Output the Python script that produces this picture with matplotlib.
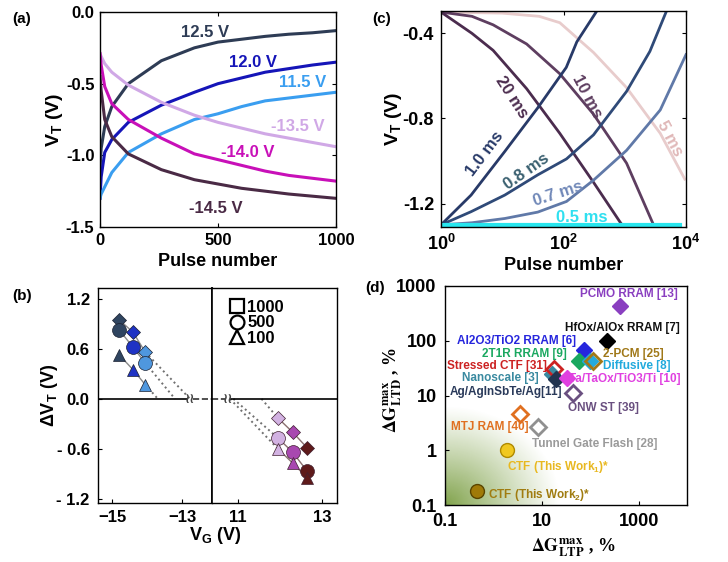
import numpy as np
import matplotlib
matplotlib.use('Agg')
import matplotlib.pyplot as plt
from matplotlib.lines import Line2D

plt.rcParams['font.family'] = ['Liberation Sans', 'DejaVu Sans']
plt.rcParams['font.weight'] = 'bold'
plt.rcParams['mathtext.fontset'] = 'custom'
plt.rcParams['mathtext.rm'] = 'Liberation Sans:bold'
plt.rcParams['mathtext.bf'] = 'Liberation Sans:bold'
plt.rcParams['mathtext.it'] = 'Liberation Sans:italic:bold'
plt.rcParams['axes.linewidth'] = 1.0

# ---------------- data: panel (a) ----------------
pulse_a = [0, 5, 20, 50, 120, 260, 400, 500, 600, 700, 800, 900, 1000]
vt_p125 = [-1.10, -0.95, -0.80, -0.66, -0.50, -0.34, -0.25, -0.21, -0.19, -0.17, -0.155, -0.145, -0.13]
vt_p120 = [-1.30, -1.15, -0.98, -0.89, -0.77, -0.65, -0.56, -0.50, -0.46, -0.42, -0.395, -0.37, -0.35]
vt_p115 = [-1.30, -1.27, -1.22, -1.12, -0.98, -0.85, -0.75, -0.71, -0.66, -0.62, -0.60, -0.58, -0.56]
vt_m135 = [-0.29, -0.31, -0.36, -0.42, -0.51, -0.63, -0.72, -0.77, -0.81, -0.85, -0.88, -0.91, -0.94]
vt_m140 = [-0.29, -0.37, -0.52, -0.64, -0.75, -0.88, -0.99, -1.03, -1.07, -1.11, -1.14, -1.16, -1.18]
vt_m145 = [-0.45, -0.55, -0.75, -0.87, -0.99, -1.10, -1.17, -1.20, -1.23, -1.25, -1.27, -1.285, -1.30]
labels_a = ['12.5 V', '12.0 V', '11.5 V', '-13.5 V', '-14.0 V', '-14.5 V']
colors_a = ['#2e3c55', '#1515b8', '#3a9ef0', '#d0a8e6', '#c810b8', '#4a2a45']

# ---------------- data: panel (c) ----------------
pulse_c_10 = [1, 3.1, 11, 38, 111, 165, 348]
vt_c_10 = [-1.30, -1.16, -0.955, -0.75, -0.56, -0.44, -0.296]
pulse_c_08 = [1, 3.1, 11, 38, 112, 309, 1070, 2570, 4790]
vt_c_08 = [-1.30, -1.238, -1.16, -1.065, -0.99, -0.877, -0.673, -0.485, -0.296]
pulse_c_07 = [1, 3.2, 11, 38, 112, 309, 1070, 3800, 10000]
vt_c_07 = [-1.30, -1.29, -1.27, -1.24, -1.19, -1.09, -0.95, -0.76, -0.50]
pulse_c_05 = [1, 8000]
vt_c_05 = [-1.30, -1.30]
pulse_c_20 = [1, 3.2, 7.1, 25, 87, 309, 830, 930]
vt_c_20 = [-0.30, -0.40, -0.48, -0.66, -0.87, -1.10, -1.285, -1.305]
pulse_c_100 = [1, 3.2, 7.1, 25, 87, 309, 1070, 2950]
vt_c_100 = [-0.30, -0.32, -0.36, -0.45, -0.59, -0.78, -1.01, -1.30]
pulse_c_5 = [1, 10, 40, 87, 309, 1070, 3800, 9550]
vt_c_5 = [-0.30, -0.305, -0.32, -0.35, -0.49, -0.655, -0.87, -1.085]

# ---------------- data: panel (b) ----------------
vg_left = [-14.8, -14.4, -14.05]
vg_right = [11.95, 12.3, 12.65]
dvt_left_1000 = [0.95, 0.80, 0.56]
dvt_left_500 = [0.83, 0.62, 0.43]
dvt_left_100 = [0.53, 0.35, 0.17]
dvt_right_1000 = [-0.23, -0.40, -0.59]
dvt_right_500 = [-0.47, -0.64, -0.87]
dvt_right_100 = [-0.60, -0.77, -0.95]
vg_zero_left = [-12.77, -13.2, -13.69]   # 1000, 500, 100
vg_zero_right = [11.56, 10.89, 10.81]
col_left = ['#2f4560', '#1f33c4', '#4f97de']
col_right = ['#d2b2e2', '#a848b0', '#5e1a1a']

# ---------------- data: panel (d) ----------------
d_names = ['Nanoscale [3]', 'PCMO RRAM [13]', 'HfOx/AlOx RRAM [7]', 'Al2O3/TiO2 RRAM [6]',
           '2T1R RRAM [9]', 'Diffusive [8]', '2-PCM [25]', 'Stressed CTF [31]',
           'Ag/AgInSbTe/Ag[11]', 'Ta/TaOx/TiO3/Ti [10]', 'ONW ST [39]', 'MTJ RAM [40]',
           'Tunnel Gate Flash [28]']
d_ltp = [16, 407, 218, 75, 59, 98, 112, 18, 20, 33, 44, 3.5, 8.3]
d_ltd = [25, 436, 100, 68, 42, 42, 42, 30, 20, 21, 11, 4.6, 2.7]
d_filled = [True, True, True, True, True, True, False, False, True, True, False, False, False]
d_colors = ['#3a8aa0', '#8a3fc0', '#000000', '#2626dd', '#1aa860', '#22aadd', '#a07818',
            '#cc2222', '#22344f', '#e040e0', '#6a5080', '#e07020', '#909090']
d_text_colors = ['#3a8aa0', '#8a3fc0', '#111111', '#2626dd', '#1aa860', '#22aadd', '#a07818',
                 '#cc2222', '#2a3a5a', '#e040e0', '#6a5080', '#e07020', '#9a9a9a']
d_label_x = [0.221, 61.5, 30.1, 0.174, 0.573, 187, 187, 0.112, 0.127, 37.1, 35.3, 0.131, 6.18]
d_label_y = [21.2, 714, 173, 100, 57.3, 34.6, 57.3, 34.6, 11.75, 19.7, 5.83, 2.70, 1.30]
ctf_names = ['CTF (This Work$_{1}$)*', 'CTF (This Work$_{2}$)*']
ctf_ltp = [1.95, 0.45]
ctf_ltd = [1.0, 0.18]
ctf_colors = ['#f0c820', '#a07a08']
ctf_edges = ['#b08a00', '#5a4500']
ctf_text_colors = ['#e8b820', '#a07c10']
ctf_label_x = [1.88, 0.785]
ctf_label_y = [0.50, 0.152]

W, H = 728, 562
fig = plt.figure(figsize=(W / 100, H / 100), dpi=100)


def rect(l, t, r, b):
    return [l / W, 1 - b / H, (r - l) / W, (b - t) / H]


# ================= panel (a) =================
axA = fig.add_axes(rect(100, 12, 336, 227))
series_a = [vt_p125, vt_p120, vt_p115, vt_m135, vt_m140, vt_m145]
for ys, c in zip(series_a, colors_a):
    axA.plot(pulse_a, ys, color=c, lw=2.2, solid_joinstyle='round')
label_pos_a = [(447, -0.14), (647, -0.35), (860, -0.49), (838, -0.80), (626, -0.98), (489, -1.37)]
for (x, y), t, c in zip(label_pos_a, labels_a, colors_a):
    axA.text(x, y, t, color=c, fontsize=12, fontweight='bold', ha='center', va='center')
axA.set_xlim(0, 1000)
axA.set_ylim(-1.5, 0)
axA.set_xticks([0, 500, 1000])
axA.set_yticks([0, -0.5, -1.0, -1.5])
axA.set_yticklabels(['0.0', '-0.5', '-1.0', '-1.5'])
axA.tick_params(direction='in', top=True, right=True, labelsize=12, length=3, pad=4)
axA.set_xlabel('Pulse number', fontsize=13, fontweight='bold')
axA.xaxis.set_label_coords(0.5, -0.12)
axA.set_ylabel('V$_\\mathregular{T}$ (V)', fontsize=14, fontweight='bold')
axA.yaxis.set_label_coords(-0.15, 0.5)

# ================= panel (c) =================
axC = fig.add_axes(rect(441, 11, 686, 227))
c_series = [(pulse_c_5, vt_c_5, '#e8cccc'), (pulse_c_100, vt_c_100, '#5e3e60'),
            (pulse_c_20, vt_c_20, '#4b2c4e'), (pulse_c_07, vt_c_07, '#6079a8'),
            (pulse_c_08, vt_c_08, '#2f4a78'), (pulse_c_10, vt_c_10, '#283a68'),
            (pulse_c_05, vt_c_05, '#28e6ee')]
for xs, ys, c in c_series:
    axC.plot(xs, ys, color=c, lw=2.0 if c != '#28e6ee' else 3.0)
c_labels = [('20 ms', 14.3, -0.698, -57, '#4b2c4e'), ('10 ms', 239, -0.698, -62, '#5e3e60'),
            ('5 ms', 5480, -0.894, -62, '#e0b8b8'), ('1.0 ms', 5.2, -0.965, 53, '#283a68'),
            ('0.8 ms', 25, -1.051, 35, '#3a6070'), ('0.7 ms', 82, -1.153, 18, '#7088b8'),
            ('0.5 ms', 198, -1.266, 0, '#30e0f0')]
for t, x, y, r, c in c_labels:
    axC.text(x, y, t, color=c, fontsize=12, fontweight='bold', rotation=r,
             ha='center', va='center', rotation_mode='anchor')
axC.set_xscale('log')
axC.set_xlim(1, 1e4)
axC.set_ylim(-1.31, -0.295)
axC.set_xticks([1, 100, 1e4])
axC.set_xticklabels([r'$\mathbf{10^{0}}$', r'$\mathbf{10^{2}}$', r'$\mathbf{10^{4}}$'])
axC.minorticks_off()
axC.set_yticks([-0.4, -0.8, -1.2])
axC.set_yticklabels(['-0.4', '-0.8', '-1.2'])
axC.tick_params(direction='in', top=True, right=True, labelsize=13, length=3, pad=5)
axC.set_xlabel('Pulse number', fontsize=13, fontweight='bold')
axC.xaxis.set_label_coords(0.5, -0.14)
axC.set_ylabel('V$_\\mathregular{T}$ (V)', fontsize=14, fontweight='bold')
axC.yaxis.set_label_coords(-0.15, 0.5)

# ================= panel (b) =================
axBL = fig.add_axes(rect(98, 288, 212, 503))
axBR = fig.add_axes(rect(212, 288, 337, 503))
xlimL = (-15.4, -12.143)
xlimR = (10.381, 13.357)
ylimB = (-1.25, 1.33)
mk = [('D', 7), ('o', 10), ('^', 9)]
left_sets = [dvt_left_1000, dvt_left_500, dvt_left_100]
right_sets = [dvt_right_1000, dvt_right_500, dvt_right_100]
for i, vals in enumerate(left_sets):
    axBL.plot(vg_left, vals, color='#8a8a8a', lw=1.0, zorder=2)
    axBL.plot([vg_left[2], vg_zero_left[i]], [vals[2], 0], ls=':', color='#707070', lw=1.4, zorder=2)
    for x, v, c in zip(vg_left, vals, col_left):
        axBL.plot([x], [v], marker=mk[i][0], ms=mk[i][1], color=c, mec='#1a2030', mew=0.5, zorder=4)
for i, vals in enumerate(right_sets):
    axBR.plot(vg_right, vals, color='#8a7070', lw=1.0, zorder=2)
    axBR.plot([vg_zero_right[i], vg_right[0]], [0, vals[0]], ls=':', color='#707070', lw=1.4, zorder=2)
    for x, v, c in zip(vg_right, vals, col_right):
        axBR.plot([x], [v], marker=mk[i][0], ms=mk[i][1], color=c, mec='#402030', mew=0.5, zorder=4)
axBL.plot([xlimL[0], -12.86], [0, 0], color='k', lw=1.2)
axBL.plot([-12.68, xlimL[1]], [0, 0], color='#333333', lw=1.2, ls='--')
axBR.plot([xlimR[0], 10.68], [0, 0], color='#333333', lw=1.2, ls='--')
axBR.plot([10.84, xlimR[1]], [0, 0], color='k', lw=1.2)
axBL.text(-12.77, 0, '\u2240\u2240', fontsize=10, color='#444444', ha='center', va='center',
          family=['DejaVu Sans'], zorder=5)
axBR.text(10.76, 0, '\u2240\u2240', fontsize=10, color='#444444', ha='center', va='center',
          family=['DejaVu Sans'], zorder=5)
for ax, xl in ((axBL, xlimL), (axBR, xlimR)):
    ax.set_xlim(*xl)
    ax.set_ylim(*ylimB)
    ax.tick_params(direction='in', labelsize=12, length=3, pad=6)
axBL.set_xticks([-15, -13])
axBL.set_yticks([1.2, 0.6, 0.0, -0.6, -1.2])
axBL.set_yticklabels(['1.2', '0.6', '0.0', '- 0.6', '- 1.2'])
axBR.set_xticks([11, 13])
axBR.set_yticks([])
axBL.tick_params(axis='x', pad=5)
axBR.tick_params(axis='x', pad=5)
axBL.spines['right'].set_linewidth(1.2)
axBR.spines['left'].set_linewidth(1.2)
axBL.set_ylabel('\u0394V$_\\mathregular{T}$ (V)', fontsize=13, fontweight='bold')
axBL.yaxis.set_label_coords(-0.33, 0.5)
fig.text(215 / W, 1 - 536 / H, 'V$_\\mathregular{G}$ (V)', fontsize=13, fontweight='bold',
         ha='center', va='center')
leg_handles = [Line2D([], [], marker=m, ms=s + 2, mfc='none', mec='k', mew=1.6, ls='none')
               for m, s in [('s', 8), ('o', 8), ('^', 8)]]
axBR.legend(leg_handles, ['1000', '500', '100'], loc='upper left', bbox_to_anchor=(0.07, 0.985),
            frameon=False, prop={'weight': 'bold', 'size': 12}, handletextpad=0.1,
            labelspacing=0.05, borderpad=0, handlelength=1.0)

# ================= panel (d) =================
posD = rect(445, 286, 687, 505)
axG = fig.add_axes(posD, zorder=0)
n = 200
gx, gy = np.meshgrid(np.linspace(0, 1, n), np.linspace(0, 1, n))
dist = np.sqrt((gx / 0.48) ** 2 + (gy / 0.45) ** 2)
alpha = np.clip(1 - dist, 0, 1) ** 1.1
rgba = np.zeros((n, n, 4))
rgba[..., 0] = 0.42
rgba[..., 1] = 0.58
rgba[..., 2] = 0.18
rgba[..., 3] = alpha * 0.85
axG.imshow(rgba, extent=[0, 1, 0, 1], origin='lower', aspect='auto')
axG.set_axis_off()

axD = fig.add_axes(posD, zorder=1)
axD.patch.set_alpha(0)
for x, y, f, c in zip(d_ltp, d_ltd, d_filled, d_colors):
    if f:
        axD.plot([x], [y], marker='D', ms=8, color=c, mec=c, ls='none')
    else:
        axD.plot([x], [y], marker='D', ms=8, mfc='none', mec=c, mew=2, ls='none')
for t, x, y, c in zip(d_names, d_label_x, d_label_y, d_text_colors):
    axD.text(x, y, t, color=c, fontsize=8.5, fontweight='bold', ha='left', va='center')
for x, y, c, e in zip(ctf_ltp, ctf_ltd, ctf_colors, ctf_edges):
    axD.plot([x], [y], marker='o', ms=10, color=c, mec=e, mew=1.0, ls='none')
for t, x, y, c in zip(ctf_names, ctf_label_x, ctf_label_y, ctf_text_colors):
    axD.text(x, y, t, color=c, fontsize=8.5, fontweight='bold', ha='left', va='center')
axD.set_xscale('log')
axD.set_yscale('log')
axD.set_xlim(0.1, 1e4)
axD.set_ylim(0.1, 1000)
axD.set_xticks([0.1, 10, 1000])
axD.set_xticklabels(['0.1', '10', '1000'])
axD.set_yticks([0.1, 1, 10, 100, 1000])
axD.set_yticklabels(['0.1', '1', '10', '100', '1000'])
axD.minorticks_off()
axD.tick_params(direction='in', labelsize=13, length=3, pad=6)
fig.text(573 / W, 1 - 548 / H, r'$\mathbf{\Delta G_{LTP}^{max}}$ , %', fontsize=13,
         fontweight='bold', family='Liberation Serif', math_fontfamily='stix',
         ha='center', va='center')
fig.text(393 / W, 1 - 390 / H, r'$\mathbf{\Delta G_{LTD}^{max}}$ , %', fontsize=13,
         fontweight='bold', family='Liberation Serif', math_fontfamily='stix',
         ha='center', va='center', rotation=90)

# panel letters
for t, x, y in [('(a)', 22, 19), ('(b)', 22, 296), ('(c)', 382, 19), ('(d)', 375, 288)]:
    fig.text(x / W, 1 - y / H, t, fontsize=11, fontweight='bold', ha='center', va='center')

fig.savefig('out.png', dpi=100)
